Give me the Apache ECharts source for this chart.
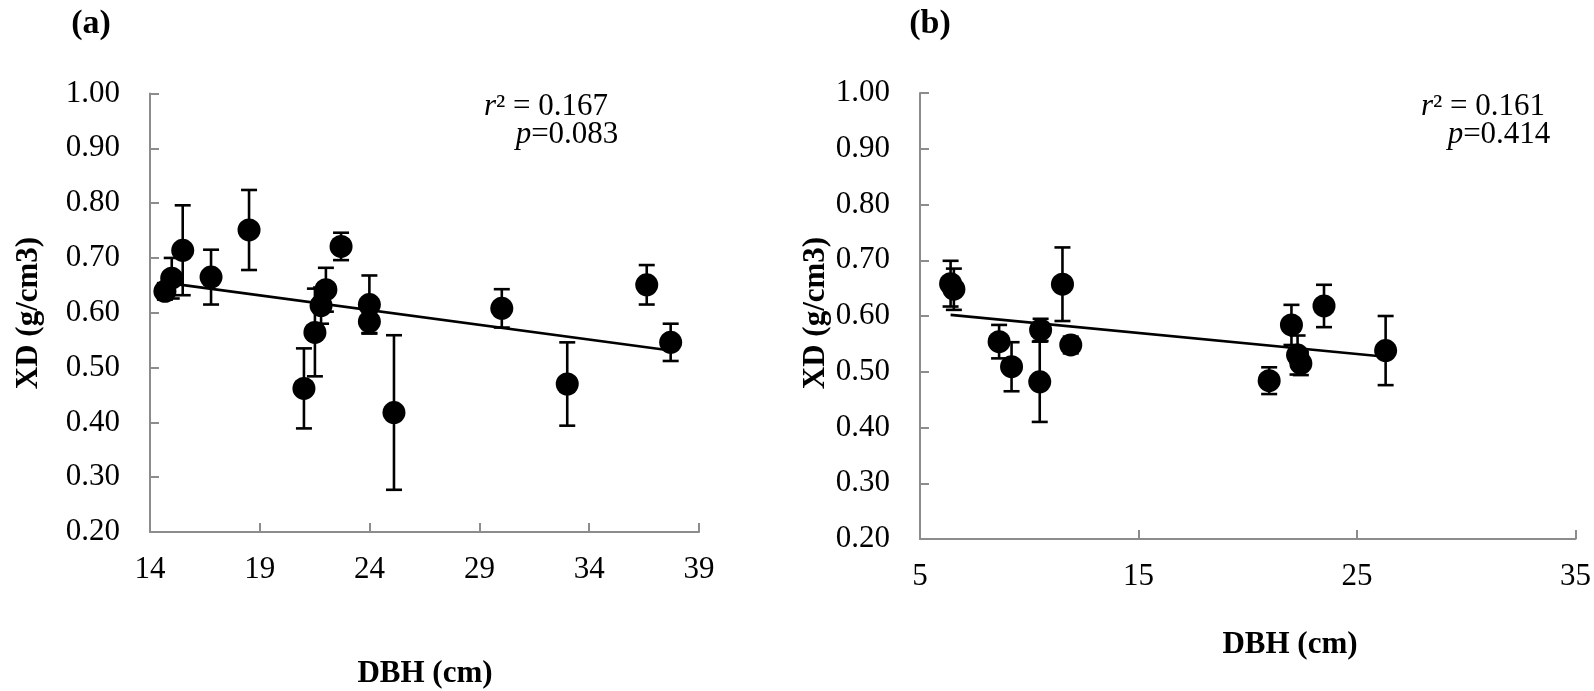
<!DOCTYPE html>
<html>
<head>
<meta charset="utf-8">
<script src="https://cdn.jsdelivr.net/npm/echarts@6/dist/echarts.min.js"></script>
<style>html,body{margin:0;padding:0;background:#fff;}#chart{width:1594px;height:691px;}</style>
</head>
<body>
<div id="chart"></div>
<script>
// Panel (a) data: DBH (cm), XD (g/cm3), error (±)
const aDBH = [14.68, 14.99, 15.49, 16.78, 18.51, 21.01, 21.51, 21.79, 22.01, 22.70, 23.99, 23.99, 25.11, 30.02, 33.00, 36.62, 37.71];
const aXD  = [0.639, 0.663, 0.714, 0.665, 0.751, 0.462, 0.564, 0.613, 0.642, 0.721, 0.615, 0.584, 0.418, 0.608, 0.470, 0.651, 0.546];
const aErr = [0.015, 0.037, 0.082, 0.050, 0.073, 0.073, 0.080, 0.033, 0.040, 0.025, 0.053, 0.021, 0.141, 0.035, 0.076, 0.036, 0.034];
const aTrend = [[14.68, 0.655], [37.71, 0.531]];
const aXTicks = [14, 19, 24, 29, 34, 39];

// Panel (b) data
const bDBH = [6.40, 6.55, 8.62, 9.19, 10.48, 10.52, 11.52, 11.90, 20.98, 22.00, 22.28, 22.43, 23.49, 26.31];
const bXD  = [0.658, 0.648, 0.554, 0.509, 0.482, 0.575, 0.657, 0.548, 0.484, 0.584, 0.530, 0.515, 0.618, 0.538];
const bErr = [0.041, 0.037, 0.030, 0.044, 0.072, 0.020, 0.066, 0.015, 0.024, 0.036, 0.035, 0.021, 0.038, 0.062];
const bTrend = [[6.40, 0.602], [26.31, 0.527]];
const bXTicks = [5, 15, 25, 35];

const yTicks = [0.2, 0.3, 0.4, 0.5, 0.6, 0.7, 0.8, 0.9, 1.0];

const FONT = '"Liberation Serif", "Times New Roman", serif';
const AXIS_GRAY = '#8c8c8c';

function pts(xs, ys, es) {
  return xs.map((x, i) => es ? [x, ys[i], es[i]] : [x, ys[i]]);
}

function errRender(params, api) {
  const x = api.value(0), y = api.value(1), e = api.value(2);
  const top = api.coord([x, y + e]);
  const bot = api.coord([x, y - e]);
  const hw = 8;
  const st = { stroke: '#000', lineWidth: 2.6 };
  return {
    type: 'group',
    children: [
      { type: 'line', shape: { x1: top[0], y1: top[1], x2: bot[0], y2: bot[1] }, style: st },
      { type: 'line', shape: { x1: top[0] - hw, y1: top[1], x2: top[0] + hw, y2: top[1] }, style: st },
      { type: 'line', shape: { x1: bot[0] - hw, y1: bot[1], x2: bot[0] + hw, y2: bot[1] }, style: st }
    ]
  };
}

function xAxis(idx, min, max, ticks) {
  return {
    type: 'value', gridIndex: idx, min: min, max: max,
    axisLine: { show: true, lineStyle: { color: AXIS_GRAY, width: 2 } },
    axisTick: { show: true, inside: true, length: 9, customValues: ticks, lineStyle: { color: AXIS_GRAY, width: 2 } },
    axisLabel: { customValues: ticks, margin: 22, color: '#000', fontFamily: FONT, fontSize: 31 },
    splitLine: { show: false }
  };
}
function yAxis(idx) {
  return {
    type: 'value', gridIndex: idx, min: 0.2, max: 1.0,
    axisLine: { show: true, lineStyle: { color: AXIS_GRAY, width: 2 } },
    axisTick: { show: true, inside: true, length: 9, customValues: yTicks, lineStyle: { color: AXIS_GRAY, width: 2 } },
    axisLabel: { customValues: yTicks, margin: 30, color: '#000', fontFamily: FONT, fontSize: 31,
      formatter: v => v.toFixed(2) },
    splitLine: { show: false }
  };
}

function statText(x, y, label, value) {
  return { type: 'text', x: x, y: y, style: { text: '{i|' + label + '}' + value, font: '31px ' + FONT, fill: '#000',
    textAlign: 'center', textVerticalAlign: 'middle',
    rich: { i: { fontStyle: 'italic', fontFamily: FONT, fontSize: 31 } } } };
}

const chart = echarts.init(document.getElementById('chart'), null, { renderer: 'canvas' });
chart.setOption({
  animation: false,
  backgroundColor: '#fff',
  grid: [
    { left: 150, top: 93.5, width: 549, height: 438.5 },
    { left: 920, top: 93, width: 657, height: 446 }
  ],
  xAxis: [xAxis(0, 14, 39, aXTicks), xAxis(1, 5, 35, bXTicks)],
  yAxis: [yAxis(0), yAxis(1)],
  series: [
    { type: 'line', xAxisIndex: 0, yAxisIndex: 0, data: aTrend, symbol: 'none',
      lineStyle: { color: '#000', width: 2.6 }, z: 1 },
    { type: 'custom', xAxisIndex: 0, yAxisIndex: 0, data: pts(aDBH, aXD, aErr), renderItem: errRender,
      encode: { x: 0, y: 1 }, z: 2 },
    { type: 'scatter', xAxisIndex: 0, yAxisIndex: 0, data: pts(aDBH, aXD), symbol: 'circle', symbolSize: 23,
      itemStyle: { color: '#000', opacity: 1 }, z: 3 },
    { type: 'line', xAxisIndex: 1, yAxisIndex: 1, data: bTrend, symbol: 'none',
      lineStyle: { color: '#000', width: 2.6 }, z: 1 },
    { type: 'custom', xAxisIndex: 1, yAxisIndex: 1, data: pts(bDBH, bXD, bErr), renderItem: errRender,
      encode: { x: 0, y: 1 }, z: 2 },
    { type: 'scatter', xAxisIndex: 1, yAxisIndex: 1, data: pts(bDBH, bXD), symbol: 'circle', symbolSize: 23,
      itemStyle: { color: '#000', opacity: 1 }, z: 3 }
  ],
  graphic: [
    { type: 'text', x: 91, y: 24, style: { text: '(a)', font: 'bold 34px ' + FONT, fill: '#000', textAlign: 'center', textVerticalAlign: 'middle' } },
    { type: 'text', x: 930, y: 24, style: { text: '(b)', font: 'bold 34px ' + FONT, fill: '#000', textAlign: 'center', textVerticalAlign: 'middle' } },
    { type: 'text', x: 29, y: 313, rotation: Math.PI / 2, style: { text: 'XD (g/cm3)', font: 'bold 31px ' + FONT, fill: '#000', textAlign: 'center', textVerticalAlign: 'middle' } },
    { type: 'text', x: 816, y: 313, rotation: Math.PI / 2, style: { text: 'XD (g/cm3)', font: 'bold 31px ' + FONT, fill: '#000', textAlign: 'center', textVerticalAlign: 'middle' } },
    { type: 'text', x: 425, y: 674, style: { text: 'DBH (cm)', font: 'bold 31px ' + FONT, fill: '#000', textAlign: 'center', textVerticalAlign: 'middle' } },
    { type: 'text', x: 1290, y: 645, style: { text: 'DBH (cm)', font: 'bold 31px ' + FONT, fill: '#000', textAlign: 'center', textVerticalAlign: 'middle' } },
    statText(546, 107, 'r', '² = 0.167'),
    statText(567, 135, 'p', '=0.083'),
    statText(1483, 107, 'r', '² = 0.161'),
    statText(1499, 135, 'p', '=0.414')
  ]
});
</script>
</body>
</html>
